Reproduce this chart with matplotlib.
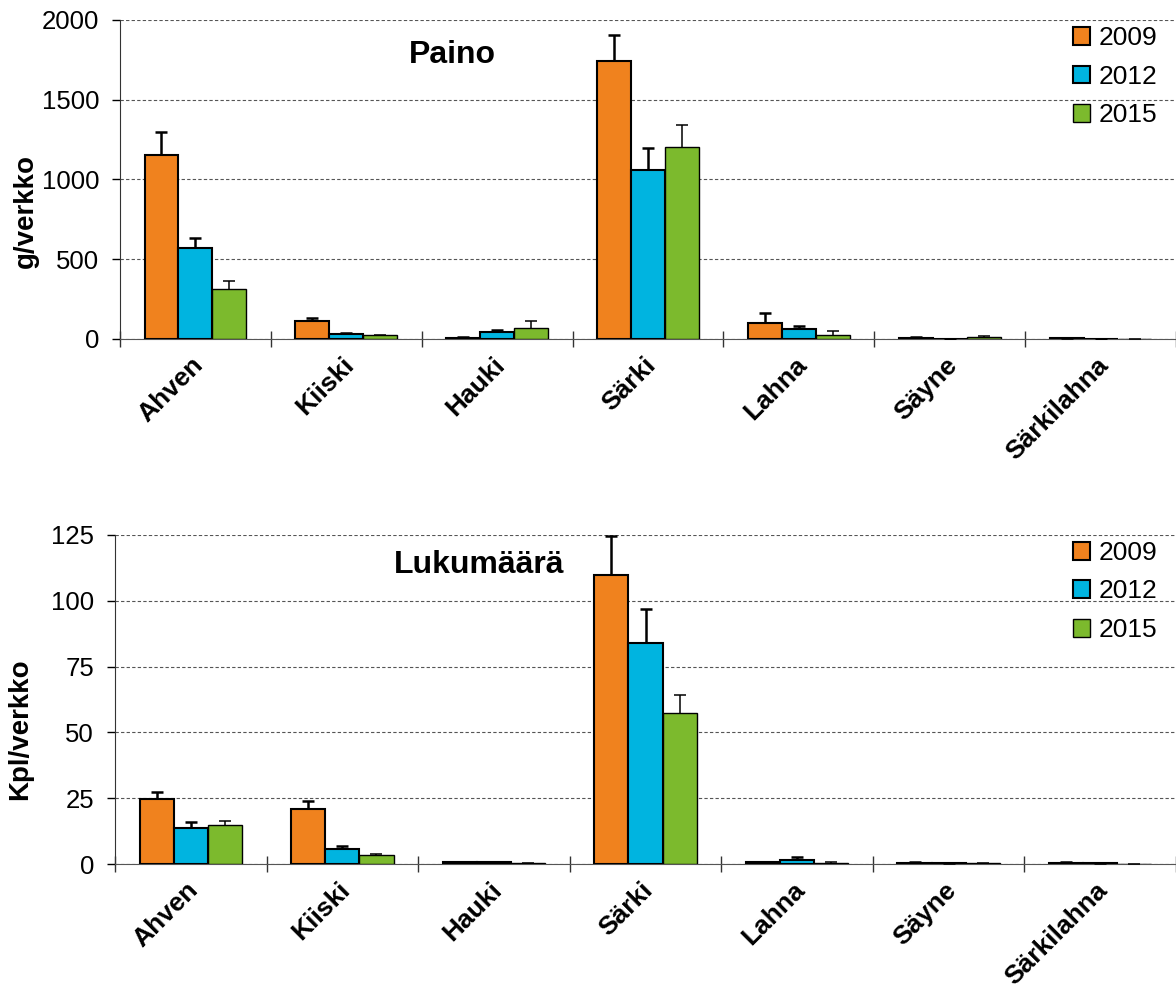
import matplotlib
matplotlib.use("Agg")
import matplotlib.pyplot as plt
import numpy as np

plt.rcParams['font.family'] = ['Liberation Sans', 'DejaVu Sans']

categories = ["Ahven", "Kiiski", "Hauki", "Särki", "Lahna", "Säyne", "Särkilahna"]
years = ["2009", "2012", "2015"]
colors = ["#F0821E", "#00B4E0", "#7CBA2D"]

# Paino (g/verkko)
paino_2009 = [1155, 115, 5, 1745, 100, 8, 5]
paino_2012 = [570, 30, 45, 1060, 63, 0, 0]
paino_2015 = [313, 22, 70, 1205, 25, 12, 0]
paino_err_2009 = [140, 15, 5, 160, 65, 6, 2]
paino_err_2012 = [62, 7, 12, 137, 17, 0, 0]
paino_err_2015 = [50, 5, 40, 137, 25, 6, 0]

# Lukumäärä (kpl/verkko)
luku_2009 = [24.6, 21.0, 0.6, 109.8, 0.6, 0.5, 0.5]
luku_2012 = [13.6, 5.7, 0.6, 83.8, 1.5, 0.2, 0.2]
luku_2015 = [14.8, 3.3, 0.2, 57.4, 0.5, 0.3, 0.0]
luku_err_2009 = [2.6, 3.0, 0.1, 14.8, 0.2, 0.1, 0.1]
luku_err_2012 = [2.4, 1.2, 0.1, 13.0, 1.0, 0.0, 0.0]
luku_err_2015 = [1.4, 0.6, 0.05, 6.8, 0.2, 0.05, 0.0]

W, H = 1176, 990
fig = plt.figure(figsize=(W / 100, H / 100), dpi=100)

ax1 = fig.add_axes([120 / W, 1 - 339 / H, (1176 - 120) / W, (339 - 20) / H])
ax2 = fig.add_axes([115 / W, 1 - 864 / H, (1176 - 115) / W, (864 - 535) / H])


def draw(ax, series, errs, ymax, yticks, ylabel, title, title_xy, label_xy):
    x = np.arange(len(categories))
    bw = 0.225
    edge_lw = [1.5, 1.5, 1.0]
    err_lw = [1.8, 1.8, 1.1]
    for i, (vals, err, c) in enumerate(zip(series, errs, colors)):
        pos = x + (i - 1) * bw
        ax.bar(pos, vals, width=bw, color=c, edgecolor="black",
               linewidth=edge_lw[i], label=years[i], zorder=3)
        eb = ax.errorbar(pos, vals, yerr=[np.zeros(len(vals)), err], fmt="none",
                         ecolor="black", elinewidth=err_lw[i], capsize=4.5,
                         capthick=err_lw[i], zorder=4)
        caps = eb[1]
        if len(caps) == 2:
            caps[0].set_visible(False)
    ax.set_xlim(-0.5, len(categories) - 0.5)
    ax.set_ylim(0, ymax)
    ax.set_yticks(yticks)
    ax.set_yticklabels([str(t) for t in yticks], fontsize=18.5)
    ax.yaxis.grid(True, linestyle=(0, (3, 2)), color="#555555", linewidth=0.8, zorder=0)
    ax.set_axisbelow(True)
    ax.set_xticks(np.arange(len(categories) + 1) - 0.5)
    ax.set_xticklabels([])
    ax.set_xticks(x - 0.03, minor=True)
    ax.set_xticklabels(categories, minor=True, rotation=45, ha="right",
                       rotation_mode="anchor", fontsize=19, fontweight="bold")
    ax.tick_params(axis="x", which="major", direction="inout", length=11,
                   width=1, color="#333333")
    ax.tick_params(axis="x", which="minor", length=0, pad=10)
    ax.tick_params(axis="y", direction="out", length=6, width=1, pad=9)
    for s in ["top", "right"]:
        ax.spines[s].set_visible(False)
    ax.spines["left"].set_color("#333333")
    ax.spines["bottom"].set_color("#555555")
    ax.set_ylabel(ylabel, fontsize=20, fontweight="bold")
    ax.yaxis.set_label_coords(*label_xy)
    ax.text(title_xy[0], title_xy[1], title, transform=ax.transAxes,
            fontsize=23, fontweight="bold", ha="center", va="center")
    leg = ax.legend(loc="upper right", bbox_to_anchor=(0.997, 1.03), frameon=False,
                    fontsize=19, handlelength=0.65, handleheight=0.65,
                    handletextpad=0.3, labelspacing=0.55, borderaxespad=0.2)
    return leg


draw(ax1, [paino_2009, paino_2012, paino_2015],
     [paino_err_2009, paino_err_2012, paino_err_2015],
     2000, [0, 500, 1000, 1500, 2000], "g/verkko", "Paino", (0.315, 0.89),
     (-0.077, 0.40))
draw(ax2, [luku_2009, luku_2012, luku_2015],
     [luku_err_2009, luku_err_2012, luku_err_2015],
     125, [0, 25, 50, 75, 100, 125], "Kpl/verkko", "Lukumäärä", (0.343, 0.91),
     (-0.077, 0.41))

fig.savefig("out.png", dpi=100)
